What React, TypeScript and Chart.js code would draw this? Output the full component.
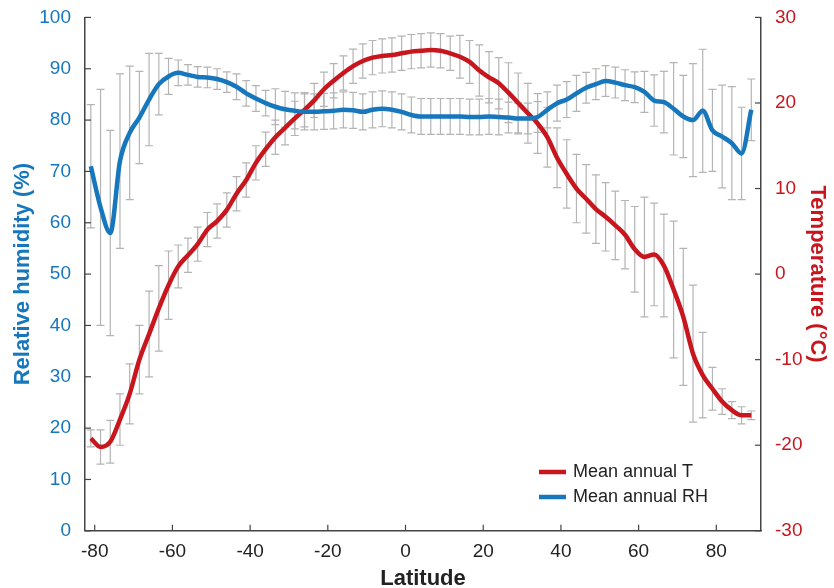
import React, { useEffect, useRef } from "react";
import { Chart, registerables } from "chart.js";

Chart.register(...registerables);

const lat = [-81, -78.5, -76, -73.5, -71, -68.5, -66, -63.5, -61, -58.5, -56, -53.5, -51, -48.5, -46, -43.5, -41, -38.5, -36, -33.5, -31, -28.5, -26, -23.5, -21, -18.5, -16, -13.5, -11, -8.5, -6, -3.5, -1, 1.5, 4, 6.5, 9, 11.5, 14, 16.5, 19, 21.5, 24, 26.5, 29, 31.5, 34, 36.5, 39, 41.5, 44, 46.5, 49, 51.5, 54, 56.5, 59, 61.5, 64, 66.5, 69, 71.5, 74, 76.5, 79, 81.5, 84, 86.5, 89];
const rh = [71, 63, 58, 72, 77.5, 80.5, 84, 87, 88.5, 89.2, 88.8, 88.4, 88.3, 88, 87.4, 86.5, 85.2, 84.2, 83.3, 82.6, 82.1, 81.8, 81.6, 81.6, 81.7, 81.8, 82, 81.9, 81.6, 82, 82.2, 82, 81.6, 81, 80.7, 80.7, 80.7, 80.7, 80.7, 80.6, 80.6, 80.7, 80.6, 80.5, 80.3, 80.3, 80.6, 82, 83.3, 84, 85.2, 86.3, 87, 87.6, 87.3, 86.8, 86.4, 85.5, 83.8, 83.5, 82.2, 80.7, 80, 81.8, 78, 76.8, 75.5, 73.5, 82];
const rhErr = [12, 23, 20, 17, 13, 9, 9, 6, 3.5, 2.5, 2, 2, 2, 2, 2, 2.5, 2.5, 2.5, 2.5, 3.5, 3.5, 3.5, 3.5, 3.5, 3.5, 3.5, 3.5, 3.5, 3.5, 3.5, 3.5, 3.5, 3.5, 3.5, 3.5, 3.5, 3.5, 3.5, 3.5, 3.5, 3.5, 3.5, 3.5, 3, 3, 3, 3, 3.5, 3.5, 3.5, 3.5, 3, 3, 3, 3, 3, 3, 4, 5, 6, 9, 8, 11, 12, 8, 10, 11, 9, 6];
const temp = [-19.2, -20.2, -19.6, -17, -14, -10, -7, -4, -1.3, 0.9, 2.2, 3.5, 5.2, 6.2, 7.5, 9.4, 11, 13, 14.6, 16, 17.1, 18.2, 19.2, 20.3, 21.6, 22.6, 23.5, 24.3, 24.9, 25.3, 25.5, 25.6, 25.8, 26, 26.1, 26.2, 26.1, 25.8, 25.4, 24.8, 23.8, 23, 22.3, 21.2, 20, 18.8, 17.6, 16, 13.6, 11.7, 10, 8.8, 7.6, 6.7, 5.7, 4.6, 2.9, 2, 2.3, 1, -1.8, -5, -9.3, -11.8, -13.4, -14.9, -15.9, -16.5, -16.5];
const tempErr = [1, 2, 2.5, 3, 3.5, 4, 5, 5, 4, 2.5, 2, 2, 2, 2, 2, 2, 2, 2, 2, 2, 2, 2, 2, 2, 2, 2, 2, 2, 2, 2, 2, 2, 2, 2, 2, 2, 2, 2, 2.5, 2.5, 3, 3, 3, 3.5, 3.5, 3.5, 3.5, 3.5, 3.5, 4, 4, 4, 4, 4, 4, 4, 5, 7, 6, 6, 8, 8, 8, 5, 2.5, 1.5, 1, 1, 0.5];
const xTicks = [-80, -60, -40, -20, 0, 20, 40, 60, 80];

const BLUE = "#1677bd";
const RED = "#c8161e";
const FONT = "'Liberation Sans', Arial, sans-serif";

const errorBars = {
  id: "errorBars",
  beforeDatasetsDraw(chart: any) {
    const { ctx } = chart;
    const x = chart.scales.x;
    const sets: [any, number[], number[]][] = [
      [chart.scales.y, rh, rhErr],
      [chart.scales.y2, temp, tempErr],
    ];
    ctx.save();
    ctx.strokeStyle = "#b4b4b4";
    ctx.lineWidth = 1.2;
    sets.forEach(([s, v, e]) => {
      lat.forEach((l, i) => {
        const px = x.getPixelForValue(l);
        const y1 = s.getPixelForValue(v[i] + e[i]);
        const y2 = s.getPixelForValue(v[i] - e[i]);
        ctx.beginPath();
        ctx.moveTo(px, y1); ctx.lineTo(px, y2);
        ctx.moveTo(px - 4, y1); ctx.lineTo(px + 4, y1);
        ctx.moveTo(px - 4, y2); ctx.lineTo(px + 4, y2);
        ctx.stroke();
      });
    });
    ctx.restore();
  },
};

const ticksAndLegend = {
  id: "ticksAndLegend",
  afterDraw(chart: any) {
    const { ctx, chartArea: a } = chart;
    const { x, y, y2 } = chart.scales;
    ctx.save();
    ctx.lineWidth = 1.2;
    ctx.strokeStyle = "#444";
    xTicks.forEach((t) => {
      const px = x.getPixelForValue(t);
      ctx.beginPath(); ctx.moveTo(px, a.bottom); ctx.lineTo(px, a.bottom - 6); ctx.stroke();
    });
    y.ticks.forEach((t: any) => {
      const py = y.getPixelForValue(t.value);
      ctx.beginPath(); ctx.moveTo(a.left, py); ctx.lineTo(a.left + 6, py); ctx.stroke();
    });
    y2.ticks.forEach((t: any) => {
      const py = y2.getPixelForValue(t.value);
      ctx.beginPath(); ctx.moveTo(a.right, py); ctx.lineTo(a.right - 6, py); ctx.stroke();
    });
    const items: [string, string][] = [["Mean annual T", RED], ["Mean annual RH", BLUE]];
    ctx.font = `18px ${FONT}`;
    ctx.textBaseline = "middle";
    items.forEach(([label, c], i) => {
      const ly = 472 + i * 25;
      ctx.strokeStyle = c;
      ctx.lineWidth = 4.5;
      ctx.beginPath(); ctx.moveTo(539, ly); ctx.lineTo(566, ly); ctx.stroke();
      ctx.fillStyle = "#222";
      ctx.fillText(label, 573, ly);
    });
    ctx.restore();
  },
};

const App = () => {
  const ref = useRef<HTMLCanvasElement | null>(null);

  useEffect(() => {
    document.body.style.margin = "0";
    if (!ref.current) return;
    const chart = new Chart(ref.current, {
      type: "line",
      data: {
        labels: lat,
        datasets: [
          { label: "Mean annual RH", data: lat.map((l, i) => ({ x: l, y: rh[i] })), borderColor: BLUE, borderWidth: 4.5, pointRadius: 0, cubicInterpolationMode: "monotone", yAxisID: "y" },
          { label: "Mean annual T", data: lat.map((l, i) => ({ x: l, y: temp[i] })), borderColor: RED, borderWidth: 4.5, pointRadius: 0, cubicInterpolationMode: "monotone", yAxisID: "y2" },
        ],
      },
      options: {
        animation: false,
        responsive: false,
        layout: { padding: { top: 10, left: 6, bottom: -4 } },
        plugins: { legend: { display: false }, tooltip: { enabled: false } },
        scales: {
          x: {
            type: "linear", min: -82.5, max: 91.5,
            afterBuildTicks: (s: any) => { s.ticks = xTicks.map((v) => ({ value: v })); },
            grid: { display: false },
            border: { display: true, color: "#444", width: 1.5 },
            ticks: { color: "#222", font: { family: FONT, size: 19 }, padding: 2 },
            title: { display: true, text: "Latitude", color: "#222", font: { family: FONT, size: 22, weight: "bold" }, padding: { top: 0, bottom: 0 } },
          },
          y: {
            position: "left", min: 0, max: 100,
            ticks: { stepSize: 10, color: BLUE, font: { family: FONT, size: 19 }, padding: 6 },
            grid: { display: false },
            border: { display: true, color: "#444", width: 1.5 },
            title: { display: true, text: "Relative humidity (%)", color: BLUE, font: { family: FONT, size: 22, weight: "bold" }, padding: { bottom: 2 } },
            afterFit: (s: any) => { s.width = 79; },
          },
          y2: {
            position: "right", min: -30, max: 30,
            ticks: { stepSize: 10, color: RED, font: { family: FONT, size: 19 }, padding: 6 },
            grid: { display: false },
            border: { display: true, color: "#444", width: 1.5 },
            title: { display: true, text: "Temperature (°C)", color: RED, font: { family: FONT, size: 22, weight: "bold" } },
            afterFit: (s: any) => { s.width = 73; },
          },
        },
      },
      plugins: [errorBars, ticksAndLegend],
    } as any);
    return () => chart.destroy();
  }, []);

  return <canvas ref={ref} width={834} height={588} style={{ display: "block" }} />;
};

export default App;
